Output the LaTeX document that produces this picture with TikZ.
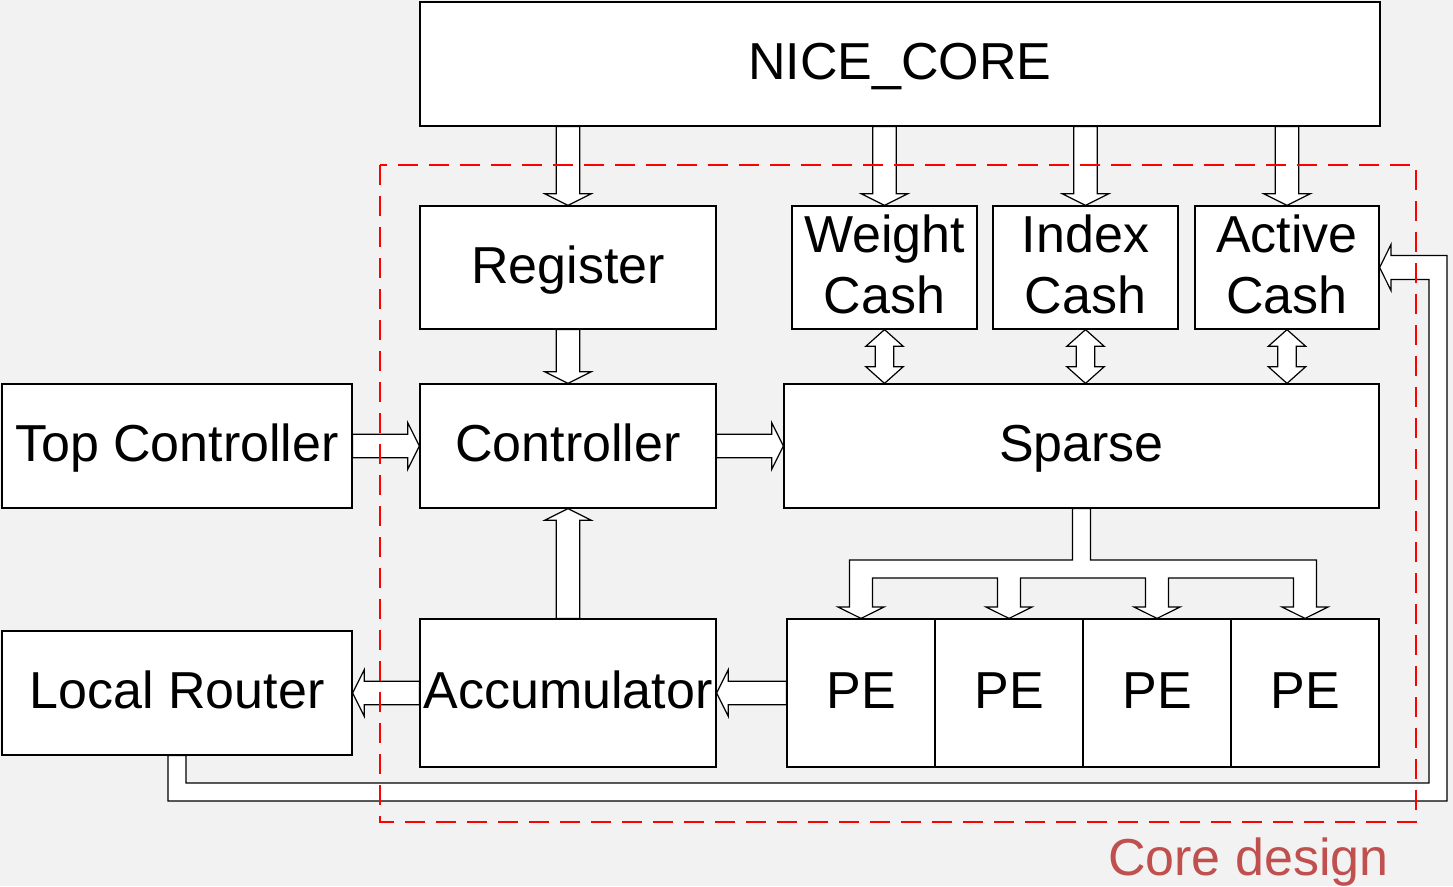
\documentclass[tikz,border=0pt]{standalone}
\usepackage{fontspec}
\setmainfont{Liberation Sans}
\usetikzlibrary{calc}
\definecolor{bgcol}{HTML}{F2F2F2}
\definecolor{coretxt}{HTML}{C0504D}
\definecolor{dashred}{HTML}{FF0000}
\newcommand{\BlkArrow}[3]{%
  \path[blk] let \p1=#1, \p2=#2, \n1={veclen(\x2-\x1,\y2-\y1)} in
  [shift={(\x1,\y1)}, rotate=#3]
  (0pt,-11.7pt) -- ({\n1-11.6pt},-11.7pt) -- ({\n1-11.6pt},-23.2pt) -- ({\n1+0pt},0pt)
  -- ({\n1-11.6pt},23.2pt) -- ({\n1-11.6pt},11.7pt) -- (0pt,11.7pt) -- cycle;}
\newcommand{\DblArrow}[3]{%
  \path[blk] let \p1=#1, \p2=#2, \n1={veclen(\x2-\x1,\y2-\y1)} in
  [shift={(\x1,\y1)}, rotate=#3]
  (0pt,0pt) -- (16.7pt,-18.7pt) -- (16.7pt,-9.3pt) -- ({\n1-16.7pt},-9.3pt)
  -- ({\n1-16.7pt},-18.7pt) -- ({\n1+0pt},0pt) -- ({\n1-16.7pt},18.7pt)
  -- ({\n1-16.7pt},9.3pt) -- (16.7pt,9.3pt) -- (16.7pt,18.7pt) -- cycle;}
\begin{document}
\begin{tikzpicture}[x=1pt, y=-1pt,
  box/.style={draw=black, line width=1.2pt, fill=white, inner sep=0pt,
    font=\fontsize{52pt}{60.6pt}\selectfont},
  one/.style={text height=37.2pt, text depth=6.2pt},
  two/.style={align=center},
  blk/.style={draw=black, fill=white, line width=1.2pt, line join=miter},
  core/.style={draw=dashred, line width=2.6pt, dash pattern=on 20pt off 11pt}]
\path[use as bounding box, fill=bgcol] (0,0) rectangle (1453,886);

% boxes
\node[box, one, minimum width=960pt, minimum height=124pt] (nice) at (900,64) {NICE\_CORE};
\node[box, one, minimum width=296pt, minimum height=123pt] (reg) at (568,267.5) {Register};
\node[box, one, minimum width=296pt, minimum height=124pt] (ctrl) at (568,446) {Controller};
\node[box, one, minimum width=296pt, minimum height=148pt] (acc) at (568,693) {Accumulator};
\node[box, one, minimum width=350pt, minimum height=124pt] (top) at (177,446) {Top Controller};
\node[box, one, minimum width=350pt, minimum height=124pt] (lr) at (177,693) {Local Router};
\node[box, two, minimum width=185pt, minimum height=123pt] (wc) at (884.5,267.5) {Weight\\Cash\rule[-6.8pt]{0pt}{6.8pt}};
\node[box, two, minimum width=185pt, minimum height=123pt] (ic) at (1085.5,267.5) {Index\\Cash\rule[-6.8pt]{0pt}{6.8pt}};
\node[box, two, minimum width=184pt, minimum height=123pt] (ac) at (1287,267.5) {Active\\Cash\rule[-6.8pt]{0pt}{6.8pt}};
\node[box, one, minimum width=595pt, minimum height=124pt] (sp) at (1081.5,446) {Sparse};
\node[box, one, minimum width=148pt, minimum height=148pt] (pe1) at (861,693) {PE};
\node[box, one, minimum width=148pt, minimum height=148pt] (pe2) at (1009,693) {PE};
\node[box, one, minimum width=148pt, minimum height=148pt] (pe3) at (1157,693) {PE};
\node[box, one, minimum width=148pt, minimum height=148pt] (pe4) at (1305,693) {PE};

% block arrows
\BlkArrow{(reg.north |- nice.south)}{(reg.north)}{-90}
\BlkArrow{(wc.north |- nice.south)}{(wc.north)}{-90}
\BlkArrow{(ic.north |- nice.south)}{(ic.north)}{-90}
\BlkArrow{(ac.north |- nice.south)}{(ac.north)}{-90}
\BlkArrow{(reg.south)}{(ctrl.north)}{-90}
\BlkArrow{(acc.north)}{(ctrl.south)}{90}
\BlkArrow{(top.east)}{(ctrl.west)}{0}
\BlkArrow{(ctrl.east)}{(sp.west |- ctrl.east)}{0}
\BlkArrow{(acc.west)}{(lr.east)}{180}
\BlkArrow{(pe1.west)}{(acc.east)}{180}
\DblArrow{(wc.south)}{(wc.south |- sp.north)}{-90}
\DblArrow{(ic.south)}{(ic.south |- sp.north)}{-90}
\DblArrow{(ac.south)}{(ac.south |- sp.north)}{-90}

% Sparse -> PE distribution
\draw[blk] ([xshift=-9pt]sp.south) -- (1072.5,560) -- (849.5,560) -- (849.5,607)
  -- (838,607) -- (pe1.north) -- (884,607) -- (872.5,607) -- (872.5,578)
  -- (997.5,578) -- (997.5,607) -- (986,607) -- (pe2.north) -- (1032,607)
  -- (1020.5,607) -- (1020.5,578) -- (1145.5,578) -- (1145.5,607) -- (1134,607)
  -- (pe3.north) -- (1180,607) -- (1168.5,607) -- (1168.5,578) -- (1293.5,578)
  -- (1293.5,607) -- (1282,607) -- (pe4.north) -- (1328,607) -- (1316.5,607)
  -- (1316.5,560) -- (1090.5,560) -- ([xshift=9pt]sp.south) -- cycle;

% Local Router -> Active Cash feedback
\draw[blk] ([xshift=-9pt]lr.south) -- (168,801) -- (1447,801) -- (1447,255.5)
  -- (1391,255.5) -- (1391,244.5) -- (ac.east) -- (1391,290.5) -- (1391,279.5)
  -- (1429,279.5) -- (1429,783) -- (186,783) -- ([xshift=9pt]lr.south) -- cycle;

% core design region
\draw[core] (380,165) rectangle (1416,822);
\node[anchor=base west, inner sep=0pt, text=coretxt, font=\fontsize{52pt}{60pt}\selectfont] (corelbl) at (1108,875) {Core design};
\end{tikzpicture}
\end{document}
